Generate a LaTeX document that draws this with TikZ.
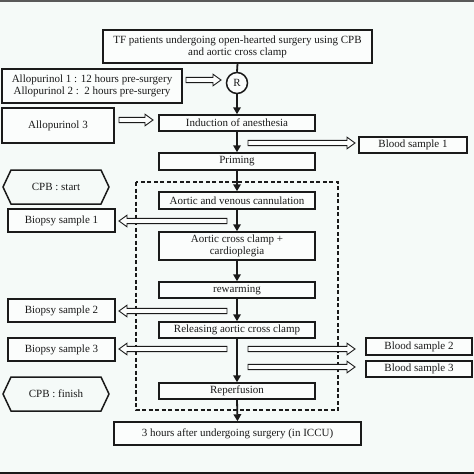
\documentclass[tikz,border=0pt]{standalone}
\usepackage{fontspec}
\setmainfont{Liberation Serif}
\usetikzlibrary{arrows.meta}
\definecolor{bgc}{HTML}{F5FAF8}
\definecolor{ink}{HTML}{1A1A1A}
\newcommand\hollowarr[3]{%
  \pgfmathsetmacro\hb{#2-8*sign(#2-#1)}%
  \draw[hollow] (#1,#3-2.6) -- (\hb,#3-2.6) -- (\hb,#3-5.8) -- (#2,#3) -- (\hb,#3+5.8) -- (\hb,#3+2.6) -- (#1,#3+2.6) -- cycle;}
\newcommand\hexa[5]{% name, x1, x2, y1, y2
  \draw[boxline] (#2,{(#4+#5)/2}) -- (#2+8,#4) -- (#3-8,#4) -- (#3,{(#4+#5)/2}) -- (#3-8,#5) -- (#2+8,#5) -- cycle;}
\begin{document}
\begin{tikzpicture}[x=1pt,y=-1pt,
  every node/.style={font=\fontsize{11}{12}\selectfont, text=ink, inner sep=0pt, align=center},
  boxline/.style={draw=ink, line width=1.5pt},
  box/.style={boxline, fill=white!60!bgc, minimum height=#1},
  box/.default=16pt,
  hollow/.style={draw=ink, line width=0.9pt, fill=white!60!bgc},
  flow/.style={draw=ink, line width=1.8pt},
  flowa/.style={flow, -{Triangle[length=7pt,width=7.5pt]}}]
\fill[bgc] (0,0) rectangle (474,474);
\useasboundingbox (0,0) rectangle (474,474);
\fill[gray!70!black] (0,0) rectangle (474,1.6);
\fill[ink] (0,472) rectangle (474,474);
% dashed frame
\draw[ink, line width=1.3pt, dash pattern=on 4pt off 2.5pt] (136,182) rectangle (338,410);
% main boxes
\node[box=33pt, minimum width=269pt] (top) at (237.5,46.5) {TF patients undergoing open-hearted surgery using CPB\\and aortic cross clamp};
\node[box=34pt, minimum width=180pt] (allo12) at (92,86) {Allopurinol 1 : 12 hours pre-surgery\\Allopurinol 2 :\ \ 2 hours pre-surgery};
\node[draw=ink, line width=1.5pt, circle, minimum size=21pt, fill=white!60!bgc] (R) at (237,83) {R};
\node[box=35pt, minimum width=112pt] (allo3) at (58,125.5) {Allopurinol 3};
\node[box, minimum width=156pt] (ind) at (237,123) {Induction of anesthesia};
\node[box, minimum width=108pt] (blood1) at (413,145) {Blood sample 1};
\node[box=17pt, minimum width=156pt] (prim) at (237,161.5) {Priming};
\node[box=17pt, minimum width=156pt] (cann) at (237,200.5) {Aortic and venous cannulation};
\node[box=23pt, minimum width=107pt] (bio1) at (61.5,220.5) {Biopsy sample 1};
\node[box=28pt, minimum width=156pt] (clamp) at (237,246) {Aortic cross clamp +\\cardioplegia};
\node[box, minimum width=156pt] (rew) at (237,290) {rewarming};
\node[box=23pt, minimum width=107pt] (bio2) at (61.5,310.5) {Biopsy sample 2};
\node[box, minimum width=156pt] (rel) at (237,330) {Releasing aortic cross clamp};
\node[box=23pt, minimum width=107pt] (bio3) at (61.5,349.5) {Biopsy sample 3};
\node[box=17pt, minimum width=106pt] (blood2) at (419,346.5) {Blood sample 2};
\node[box, minimum width=106pt] (blood3) at (419,369) {Blood sample 3};
\node[box, minimum width=156pt] (rep) at (237,391) {Reperfusion};
\node[box=23pt, minimum width=247pt] (fin) at (237.5,433.5) {3 hours after undergoing surgery (in ICCU)};
% hexagons
\hexa{cpbs}{3}{109}{170}{204}
\node (cpbs) at (56,187) {CPB : start};
\hexa{cpbf}{3}{109}{377}{411}
\node (cpbf) at (56,394) {CPB : finish};
% vertical flow
\draw[flow] (top.south) -- (R.north);
\draw[flowa] (R.south) -- (ind.north);
\draw[flowa] (ind.south) -- (prim.north);
\draw[flowa] (prim.south) -- (cann.north);
\draw[flowa] (cann.south) -- (clamp.north);
\draw[flowa] (clamp.south) -- (rew.north);
\draw[flowa] (rew.south) -- (rel.north);
\draw[flowa] (rel.south) -- (rep.north);
\draw[flowa] (rep.south) -- (fin.north);
% hollow arrows
\hollowarr{186}{221}{80}
\hollowarr{119}{153}{120}
\hollowarr{248}{355}{143}
\hollowarr{227}{119}{221}
\hollowarr{227}{119}{311}
\hollowarr{227}{119}{349}
\hollowarr{248}{355}{349}
\hollowarr{248}{355}{367}
\end{tikzpicture}
\end{document}
